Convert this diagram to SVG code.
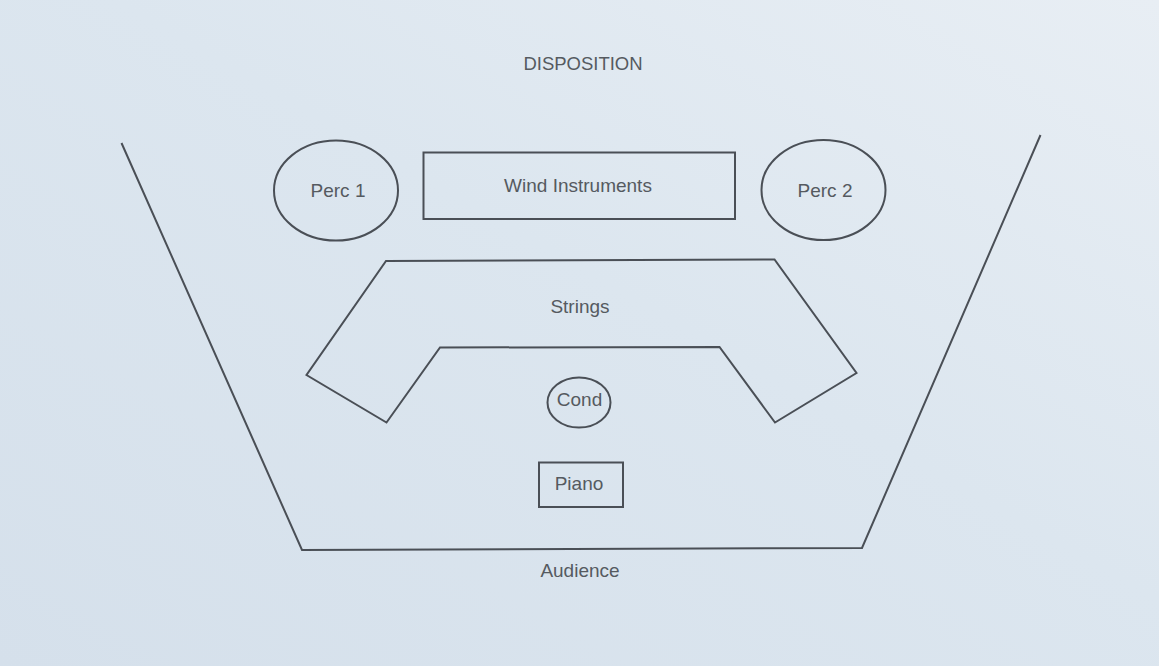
<svg xmlns="http://www.w3.org/2000/svg" width="1159" height="666" viewBox="0 0 1159 666">
  <defs>
    <linearGradient id="paper" x1="0" y1="1" x2="1" y2="0">
      <stop offset="0" stop-color="#d5e0eb"/>
      <stop offset="0.55" stop-color="#dce6ef"/>
      <stop offset="1" stop-color="#e8eef4"/>
    </linearGradient>
    <style>
      .shape { fill: none; stroke: #4a4f56; stroke-width: 2; stroke-linejoin: miter; }
      .label { font-family: "Liberation Sans", Arial, sans-serif; font-size: 19px; fill: #555a60; text-anchor: middle; }
    </style>
  </defs>

  <!-- paper -->
  <rect x="0" y="0" width="1159" height="666" fill="url(#paper)"/>

  <!-- title -->
  <text class="label" x="583" y="70" style="font-size:18.5px">DISPOSITION</text>

  <!-- stage outline -->
  <g id="stage">
    <polyline class="shape" points="121.5,143 302,550 862,548 1040.5,135"/>
  </g>

  <g id="perc1">
    <ellipse class="shape" cx="336" cy="190.5" rx="62" ry="50"/>
    <text class="label" x="338" y="197">Perc 1</text>
  </g>

  <g id="wind">
    <rect class="shape" x="423.5" y="152.5" width="311.5" height="66.5"/>
    <text class="label" x="578" y="192">Wind Instruments</text>
  </g>

  <g id="perc2">
    <ellipse class="shape" cx="823.5" cy="190" rx="62" ry="50"/>
    <text class="label" x="825" y="197">Perc 2</text>
  </g>

  <g id="strings">
    <polygon class="shape" points="386,261 774.5,259.5 856.5,373 775,422.5 719.5,347 440,347.5 386.5,422.5 306.5,375"/>
    <text class="label" x="580" y="313">Strings</text>
  </g>

  <g id="cond">
    <ellipse class="shape" cx="579" cy="402.5" rx="31.5" ry="25"/>
    <text class="label" x="579.5" y="406">Cond</text>
  </g>

  <g id="piano">
    <rect class="shape" x="539" y="462.5" width="84" height="44.5"/>
    <text class="label" x="579" y="489.5">Piano</text>
  </g>

  <!-- connectors: none drawn in this layout -->
  <g id="connectors"/>

  <text class="label" x="580" y="577">Audience</text>
</svg>
